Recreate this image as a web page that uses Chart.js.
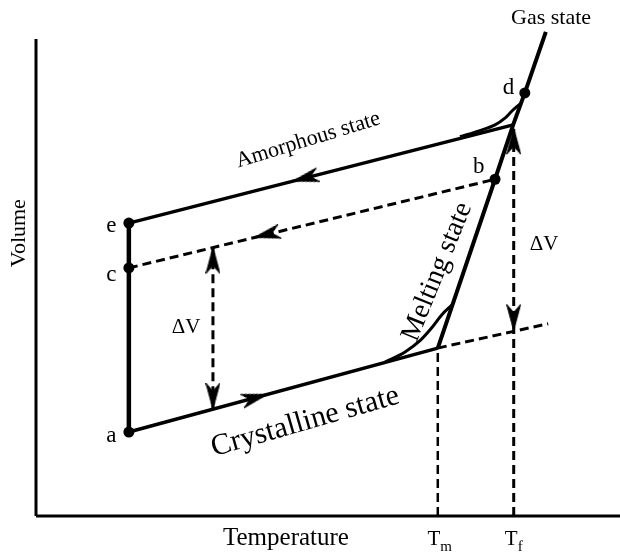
<!DOCTYPE html>
<html><head><meta charset="utf-8">
<script src="https://cdn.jsdelivr.net/npm/chart.js@4.4.1/dist/chart.umd.min.js"></script>
<style>html,body{margin:0;padding:0;background:#fff;}canvas{display:block;}</style>
</head><body>
<canvas id="c" width="620" height="554"></canvas>
<script>
// ---- Data (T = temperature, V = volume, arbitrary schematic units 0–100) ----
const pointNames = ['a', 'e', 'c', 'b', 'd'];
const pointT = [15.9, 15.9, 15.9, 78.6, 83.7];
const pointV = [17.6, 61.4, 52.0, 70.6, 88.7];

const Tm = 68.8;
const Tf = 81.8;
const tickLabels = ['T|m', 'T|f'];

const crystallineT = [15.9, 68.8];
const crystallineV = [17.6, 35.2];
const meltingT = [68.8, 78.6, 81.7, 83.7, 87.3];
const meltingV = [35.2, 70.6, 82.0, 88.7, 101.5];
const amorphousT = [15.9, 81.7];
const amorphousV = [61.4, 82.0];
const coolingT = [15.9, 15.9];
const coolingV = [61.4, 17.6];
const quenchT = [15.9, 78.6];
const quenchV = [52.0, 70.6];
const crystExtT = [68.8, 87.7];
const crystExtV = [35.2, 40.3];
const meltCurveT = [59.8, 63.2, 65.8, 67.8, 69.5, 71.2];
const meltCurveV = [32.3, 34.4, 36.8, 39.5, 42.2, 44.2];
const glassCurveT = [72.6, 76.0, 78.6, 80.3, 81.5, 82.9];
const glassCurveV = [79.5, 80.8, 82.0, 83.4, 84.9, 86.4];
const deltaVLeftT = [30.3, 30.3];
const deltaVLeftV = [22.4, 56.3];
const TmLineV = [0, 35.2];
const TfLineV = [0, 81.3];

// arrow tips and the point each arrow comes from
const arrowTipT = [39.6, 44.0, 37.4, 30.3, 30.3, 81.8, 81.8];
const arrowTipV = [25.5, 70.2, 58.4, 56.3, 22.4, 81.3, 38.9];
const arrowFromT = [15.9, 81.7, 78.6, 30.3, 30.3, 81.8, 81.8];
const arrowFromV = [17.6, 82.0, 70.6, 22.4, 56.3, 0, 81.3];

const xy = (T, V) => T.map((t, i) => ({x: t, y: V[i]}));
const SERIF = '"Liberation Serif", "DejaVu Serif", serif';

// arrowhead image (pointing up, tip at image centre)
function makeArrow() {
  const w = 15, h = 56, c = document.createElement('canvas');
  c.width = w; c.height = h;
  const g = c.getContext('2d');
  const cy = h / 2;
  g.fillStyle = '#000';
  g.strokeStyle = '#000';
  g.lineWidth = 1;
  g.beginPath();
  g.moveTo(w / 2, cy);
  g.lineTo(w - 0.5, cy + 26);
  g.lineTo(w / 2, cy + 18);
  g.lineTo(0.5, cy + 26);
  g.closePath();
  g.fill();
  g.stroke();
  return c;
}
const arrowImg = makeArrow();

const labels = [
  {text: 'Gas state', T: 88.2, V: 104.4, size: 22, angle: 0},
  {text: 'Amorphous state', T: 46.6, V: 78.8, size: 22, angle: -17},
  {text: 'Crystalline state', T: 46.1, V: 19.7, size: 30, angle: -16},
  {text: 'Melting state', T: 68.7, V: 51.2, size: 28, angle: -68},
  {text: '\u0394V', T: 25.7, V: 39.6, size: 21, angle: 0},
  {text: '\u0394V', T: 87.0, V: 57.0, size: 21, angle: 0},
  {text: 'Volume', T: -2.9, V: 59.3, size: 22, angle: -90},
  {text: 'Temperature', T: 42.8, V: -4.6, size: 25, angle: 0},
];
const letterOffsetT = -3.0;

const textPlugin = {
  id: 'texts',
  afterDatasetsDraw(chart) {
    const {ctx, scales: {x, y}} = chart;
    ctx.save();
    ctx.fillStyle = '#000';
    ctx.textAlign = 'center';
    ctx.textBaseline = 'middle';
    const draw = (t, px, py, size, angle) => {
      ctx.save();
      ctx.translate(px, py);
      ctx.rotate(angle * Math.PI / 180);
      ctx.font = size + 'px ' + SERIF;
      ctx.fillText(t, 0, 0);
      ctx.restore();
    };
    labels.forEach(l => draw(l.text, x.getPixelForValue(l.T), y.getPixelForValue(l.V), l.size, l.angle));
    // point letters
    pointNames.forEach((n, i) => {
      let T = pointT[i] + letterOffsetT, V = pointV[i];
      if (n === 'b') { T = pointT[i] - 2.8; V = pointV[i] + 2.6; }
      if (n === 'd') { T = pointT[i] - 2.8; V = pointV[i] + 1.0; }
      if (n === 'a') V -= 0.8;
      if (n === 'e') V -= 0.6;
      if (n === 'c') V -= 1.4;
      draw(n, x.getPixelForValue(T), y.getPixelForValue(V), 23, 0);
    });
    // Tm / Tf tick labels with subscripts
    [Tm, Tf].forEach((t, i) => {
      const [main, sub] = tickLabels[i].split('|');
      const px = x.getPixelForValue(t);
      const base = y.getPixelForValue(0) + 29;
      ctx.font = '21px ' + SERIF;
      const w1 = ctx.measureText(main).width;
      ctx.font = '15px ' + SERIF;
      const w2 = ctx.measureText(sub).width;
      const start = px - (w1 + w2) / 2 + (i === 0 ? 2 : 0);
      ctx.textAlign = 'left';
      ctx.textBaseline = 'alphabetic';
      ctx.font = '21px ' + SERIF;
      ctx.fillText(main, start, base);
      ctx.font = '15px ' + SERIF;
      ctx.fillText(sub, start + w1, base + 6);
      ctx.textAlign = 'center';
      ctx.textBaseline = 'middle';
    });
    ctx.restore();
  }
};

const solid = (data, w) => ({data, showLine: true, borderColor: '#000', borderWidth: w, pointRadius: 0, clip: false, tension: 0});
const dashed = (data, w) => Object.assign(solid(data, w), {borderDash: [9, 5]});
const curve = (data, w) => Object.assign(solid(data, w), {cubicInterpolationMode: 'monotone'});

new Chart(document.getElementById('c'), {
  type: 'scatter',
  data: {
    datasets: [
      {data: xy(pointT, pointV), showLine: false, pointRadius: 5.5, pointBackgroundColor: '#000', pointBorderColor: '#000', pointBorderWidth: 0, clip: false},
      {data: xy(arrowTipT, arrowTipV), showLine: false, pointStyle: arrowImg, pointRadius: 5, clip: false,
        rotation: (c) => {
          const ch = c.chart, i = c.dataIndex;
          if (!ch.scales || !ch.scales.x) return 0;
          const sx = ch.scales.x, sy = ch.scales.y;
          const dx = sx.getPixelForValue(arrowTipT[i]) - sx.getPixelForValue(arrowFromT[i]);
          const dy = sy.getPixelForValue(arrowTipV[i]) - sy.getPixelForValue(arrowFromV[i]);
          return Math.atan2(dx, -dy) * 180 / Math.PI;
        }},
      solid([{x: 0, y: 0}, {x: 0, y: 100}], 3),
      solid([{x: 0, y: 0}, {x: 100, y: 0}], 3),
      solid(xy(crystallineT, crystallineV), 3.5),
      solid(xy(meltingT, meltingV), 4),
      solid(xy(amorphousT, amorphousV), 3.5),
      solid(xy(coolingT, coolingV), 4.5),
      dashed(xy(quenchT, quenchV), 3),
      dashed(xy(crystExtT, crystExtV), 3),
      dashed(xy([Tm, Tm], TmLineV), 2.5),
      dashed(xy([Tf, Tf], TfLineV), 3),
      dashed(xy(deltaVLeftT, deltaVLeftV), 3),
      curve(xy(meltCurveT, meltCurveV), 3),
      curve(xy(glassCurveT, glassCurveV), 3),
    ]
  },
  options: {
    responsive: false,
    animation: false,
    events: [],
    layout: {autoPadding: false, padding: {left: 36, top: 39, right: 0, bottom: 38}},
    scales: {
      x: {type: 'linear', min: 0, max: 100, display: false},
      y: {type: 'linear', min: 0, max: 100, display: false}
    },
    plugins: {legend: {display: false}, tooltip: {enabled: false}}
  },
  plugins: [textPlugin]
});
</script>
</body></html>
